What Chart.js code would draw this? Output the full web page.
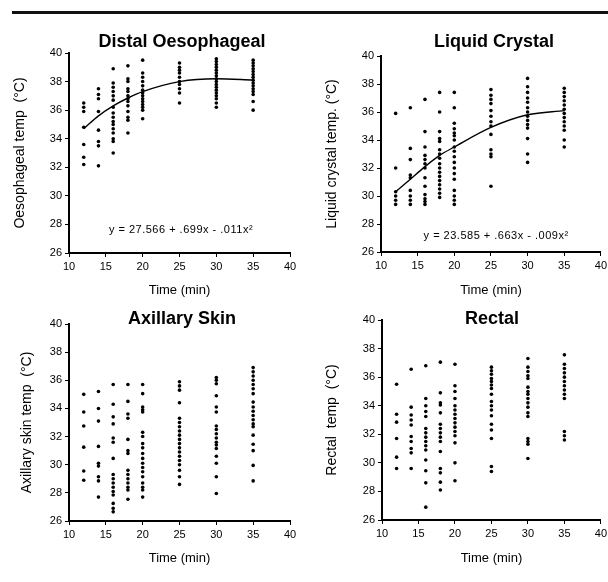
<!DOCTYPE html>
<html>
<head>
<meta charset="utf-8">
<script src="https://cdn.jsdelivr.net/npm/chart.js@4/dist/chart.umd.min.js"></script>
<style>
  body { margin: 0; background: #fff; width: 608px; height: 582px; overflow: hidden; position: relative; }
  canvas { position: absolute; }
  #rule { position: absolute; left: 12px; top: 11px; width: 596px; height: 3px; background: #111; }
</style>
</head>
<body>
<div id="rule"></div>
<canvas id="oeso" width="304" height="300" style="left:0;top:0;width:304px;height:300px"></canvas>
<canvas id="liquid" width="306" height="300" style="left:304px;top:0;width:306px;height:300px"></canvas>
<canvas id="axil" width="304" height="282" style="left:0;top:300px;width:304px;height:282px"></canvas>
<canvas id="rectal" width="306" height="282" style="left:304px;top:300px;width:306px;height:282px"></canvas>
<script>
// sampling times (min), shared by all four panels
const times = [12, 14, 16, 18, 20, 25, 30, 35];
const xTicks = [10, 15, 20, 25, 30, 35, 40];
const yTicks = [26, 28, 30, 32, 34, 36, 38, 40];

// one list of readings per sampling time
const oesoVals = [
  [36.5, 36.2, 35.9, 34.8, 33.6, 32.7, 32.2],
  [37.5, 37.1, 36.8, 35.9, 34.6, 33.8, 33.5, 32.1],
  [38.9, 37.9, 37.6, 37.3, 37.0, 36.7, 36.2, 35.8, 35.5, 35.2, 35.0, 34.7, 34.4, 34.0, 33.8, 33.0],
  [39.1, 38.2, 38.0, 37.5, 37.3, 37.0, 36.8, 36.6, 36.3, 35.9, 35.5, 35.3, 34.4],
  [39.5, 38.6, 38.3, 38.0, 37.7, 37.4, 37.2, 37.0, 36.8, 36.6, 36.4, 36.2, 36.0, 35.4],
  [39.3, 39.0, 38.8, 38.6, 38.3, 38.0, 37.8, 37.5, 37.2, 36.5],
  [39.6, 39.4, 39.2, 39.0, 38.8, 38.6, 38.4, 38.2, 38.0, 37.8, 37.6, 37.4, 37.2, 37.0, 36.8, 36.5, 36.2],
  [39.5, 39.3, 39.1, 38.9, 38.7, 38.5, 38.3, 38.1, 37.9, 37.7, 37.5, 37.3, 37.1, 36.6, 36.0]
];
const oesoFit = [34.7, 35.6, 36.3, 36.85, 37.3, 38.0, 38.2, 38.1];

const liquidVals = [
  [35.9, 32.0, 30.3, 30.0, 29.7, 29.4],
  [36.3, 33.4, 32.6, 31.5, 31.3, 30.4, 30.0, 29.7, 29.4],
  [36.9, 34.6, 33.5, 32.9, 32.6, 32.3, 32.0, 31.3, 30.7, 30.1, 29.8, 29.6, 29.4],
  [37.4, 36.0, 34.6, 34.1, 33.9, 33.3, 33.0, 32.7, 32.3, 32.0, 31.7, 31.4, 31.1, 30.8, 30.5, 30.2, 29.9],
  [37.4, 36.3, 35.2, 34.8, 34.5, 34.3, 34.0, 33.5, 33.2, 32.8, 32.4, 32.0, 31.6, 31.2, 30.4, 30.0, 29.7, 29.4],
  [37.6, 37.2, 36.9, 36.6, 36.1, 35.7, 35.3, 35.0, 34.4, 33.3, 33.0, 32.8, 30.7],
  [38.4, 37.8, 37.4, 37.0, 36.7, 36.3, 36.0, 35.7, 35.4, 35.1, 34.85, 34.1, 33.0, 32.4],
  [37.7, 37.4, 37.1, 36.8, 36.5, 36.2, 35.9, 35.6, 35.3, 35.0, 34.7, 34.0, 33.5]
];
const liquidFit = [30.3, 31.2, 32.1, 32.9, 33.5, 34.9, 35.8, 36.1];

const axilVals = [
  [35.0, 33.75, 32.75, 31.25, 29.55, 28.9],
  [35.2, 34.0, 33.1, 31.3, 30.1, 29.9, 29.15, 28.85, 27.7],
  [35.7, 34.3, 33.4, 32.9, 31.9, 31.6, 30.45, 29.3, 29.0, 28.7, 28.4, 28.1, 27.85, 27.25, 26.9, 26.65],
  [35.7, 34.5, 33.6, 33.3, 31.8, 31.0, 30.8, 29.6, 29.3, 29.0, 28.7, 28.4, 28.2, 27.55],
  [35.7, 35.05, 34.1, 33.9, 33.75, 32.3, 32.0, 31.5, 31.2, 30.8, 30.45, 30.1, 29.8, 29.5, 29.15, 28.7, 28.4, 28.2, 27.7],
  [35.9, 35.6, 35.3, 34.4, 33.3, 33.0, 32.7, 32.4, 32.1, 31.8, 31.5, 31.2, 30.9, 30.6, 30.3, 30.0, 29.6, 29.15, 28.6],
  [36.2, 36.0, 35.75, 34.9, 34.1, 33.75, 32.75, 32.5, 32.2, 31.9, 31.6, 31.4, 31.15, 30.6, 30.1, 29.15, 27.95],
  [36.9, 36.6, 36.3, 36.0, 35.7, 35.4, 35.05, 34.45, 34.1, 33.8, 33.5, 33.2, 32.9, 32.7, 32.1, 31.45, 31.0, 29.95, 28.85]
];

const rectalVals = [
  [35.5, 33.4, 32.85, 31.7, 30.4, 29.6],
  [36.55, 33.9, 33.35, 33.0, 32.65, 31.85, 31.5, 31.0, 30.7, 29.6],
  [36.8, 34.5, 34.0, 33.6, 33.25, 32.4, 32.1, 31.8, 31.5, 31.2, 30.9, 30.2, 29.45, 28.6, 26.9],
  [37.05, 34.9, 34.2, 34.05, 33.5, 32.7, 32.4, 32.1, 31.8, 31.5, 30.8, 29.6, 29.3, 28.65, 28.1],
  [36.9, 35.4, 35.0, 34.5, 34.0, 33.7, 33.4, 33.1, 32.8, 32.5, 32.2, 31.9, 31.4, 30.0, 28.75],
  [36.7, 36.45, 36.2, 35.9, 35.7, 35.45, 35.2, 34.8, 34.3, 34.0, 33.7, 33.3, 32.7, 32.3, 31.7, 29.75, 29.4],
  [37.3, 36.7, 36.4, 36.1, 35.9, 35.3, 35.0, 34.8, 34.5, 34.2, 33.9, 33.5, 33.25, 31.7, 31.5, 31.3, 30.3],
  [37.56, 36.9, 36.6, 36.3, 36.0, 35.7, 35.4, 35.1, 34.8, 34.5, 32.2, 31.9, 31.6]
];

const FONT = '"Liberation Sans", Arial, Helvetica, sans-serif';

// panel heading + regression equation, drawn on top of each chart
const panelText = {
  id: 'panelText',
  afterDraw(chart, args, opts) {
    const { ctx, scales } = chart;
    ctx.save();
    ctx.fillStyle = '#000';
    ctx.textAlign = 'center';
    ctx.textBaseline = 'middle';
    ctx.font = 'bold 18px ' + FONT;
    ctx.fillText(opts.title, opts.titleX, opts.titleY);
    if (opts.eq) {
      ctx.font = '11px ' + FONT;
      ctx.letterSpacing = '0.5px';
      ctx.fillText(opts.eq, scales.x.getPixelForValue(opts.eqAt[0]), scales.y.getPixelForValue(opts.eqAt[1]));
    }
    ctx.restore();
  }
};

function makePanel(id, p) {
  const pts = [];
  times.forEach((t, i) => p.vals[i].forEach(v => pts.push({ x: t, y: v })));

  const datasets = [{
    data: pts,
    pointRadius: 1.8,
    pointBackgroundColor: '#000',
    pointBorderWidth: 0,
    showLine: false
  }];
  if (p.fit) {
    datasets.push({
      data: times.map((t, i) => ({ x: t, y: p.fit[i] })),
      showLine: true,
      borderColor: '#000',
      borderWidth: 1.4,
      pointRadius: 0,
      cubicInterpolationMode: 'monotone'
    });
  }

  return new Chart(document.getElementById(id), {
    type: 'scatter',
    data: { datasets },
    plugins: [panelText],
    options: {
      responsive: false,
      animation: false,
      events: [],
      layout: { padding: p.pad },
      plugins: {
        legend: { display: false },
        tooltip: { enabled: false },
        panelText: { title: p.title, titleX: p.titleX, titleY: p.titleY, eq: p.eq, eqAt: p.eqAt }
      },
      scales: {
        x: {
          type: 'linear', min: 10, max: 40,
          afterBuildTicks: s => { s.ticks = xTicks.map(v => ({ value: v })); },
          afterFit: s => { s.height = p.xH; },
          border: { display: true, color: '#000', width: 2 },
          grid: { display: true, drawOnChartArea: false, drawTicks: true, tickLength: 4, color: '#000' },
          ticks: { color: '#000', font: { family: FONT, size: 11 }, padding: 3, maxRotation: 0 },
          title: { display: true, text: 'Time (min)', color: '#000', font: { family: FONT, size: 13 }, padding: { top: 0, bottom: p.xTitlePad } }
        },
        y: {
          type: 'linear', min: 26, max: 40,
          afterBuildTicks: s => { s.ticks = yTicks.map(v => ({ value: v })); },
          afterFit: s => { s.width = p.yW; },
          border: { display: true, color: '#000', width: 2 },
          grid: { display: true, drawOnChartArea: false, drawTicks: true, tickLength: 4, color: '#000' },
          ticks: { color: '#000', font: { family: FONT, size: 11 }, padding: 3 },
          title: { display: true, text: p.yTitle, color: '#000', font: { family: FONT, size: 14 }, padding: 0 }
        }
      }
    }
  });
}

makePanel('oeso', {
  vals: oesoVals, fit: oesoFit,
  title: 'Distal Oesophageal', titleX: 182, titleY: 42,
  yTitle: 'Oesophageal temp  (°C)',
  eq: 'y = 27.566 + .699x - .011x²', eqAt: [25.2, 27.6],
  pad: { top: 53, left: 12, right: 14, bottom: 0 }, yW: 57, xH: 47, xTitlePad: 2
});
makePanel('liquid', {
  vals: liquidVals, fit: liquidFit,
  title: 'Liquid Crystal', titleX: 190, titleY: 42,
  yTitle: 'Liquid crystal temp. (°C)',
  eq: 'y = 23.585 + .663x - .009x²', eqAt: [25.7, 27.15],
  pad: { top: 56, left: 20, right: 7, bottom: 0 }, yW: 57, xH: 48, xTitlePad: 2
});
makePanel('axil', {
  vals: axilVals,
  title: 'Axillary Skin', titleX: 182, titleY: 19,
  yTitle: 'Axillary skin temp  (°C)',
  pad: { top: 24, left: 19, right: 14, bottom: 0 }, yW: 50, xH: 61, xTitlePad: 16
});
makePanel('rectal', {
  vals: rectalVals,
  title: 'Rectal', titleX: 188, titleY: 19,
  yTitle: 'Rectal  temp  (°C)',
  pad: { top: 20, left: 20, right: 6, bottom: 0 }, yW: 58, xH: 62, xTitlePad: 16
});
</script>
</body>
</html>
